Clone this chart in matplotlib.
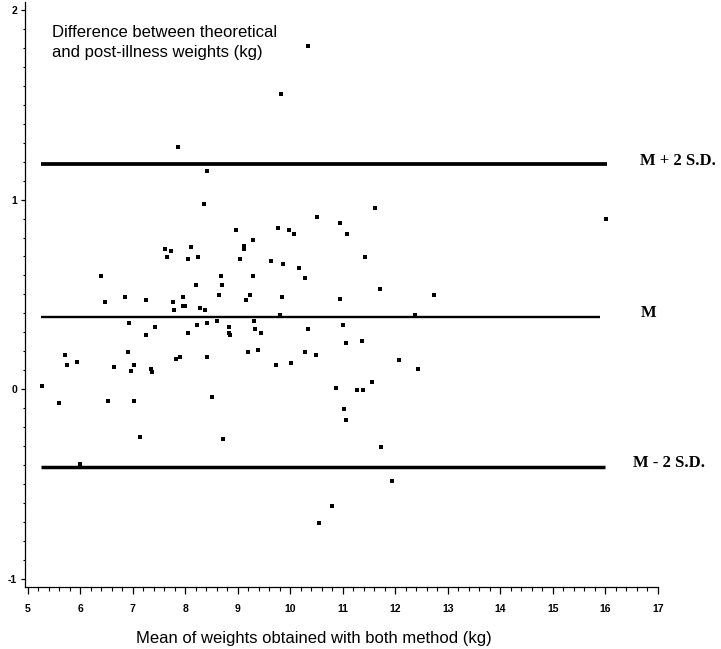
import matplotlib
matplotlib.use("Agg")
import matplotlib.pyplot as plt
from matplotlib.ticker import MultipleLocator

plt.rcParams['axes.unicode_minus'] = False

# Data: mean of weights (x) and difference (y)
mean_weights = [
    10.33, 9.82, 7.86, 8.41, 8.35, 10.52, 10.94, 11.08, 8.97, 9.76,
    9.97, 10.07, 9.29, 9.12, 9.12, 7.62, 7.73, 8.12, 7.65, 8.05,
    8.24, 9.05, 9.64, 9.86, 10.17, 10.29, 6.40, 8.69, 9.29, 8.21,
    8.71, 6.86, 6.48, 7.26, 7.77, 7.95, 8.64, 9.23, 9.16, 9.85,
    10.94, 7.78, 7.95, 7.99, 8.28, 8.38, 9.80, 11.61, 16.01, 11.43,
    11.72, 12.73, 12.38,
    6.93, 7.26, 7.43, 8.05, 8.22, 8.42, 8.61, 8.83, 8.84, 8.85,
    9.31, 9.33, 9.44, 10.33, 11.01, 11.06, 11.36, 5.71, 5.74, 5.94,
    6.65, 6.91, 6.96, 7.03, 7.34, 7.36, 7.82, 7.91, 8.41, 9.19,
    9.39, 9.73, 10.02, 10.28, 10.49, 12.07, 12.43, 11.56, 5.27, 5.60,
    6.53, 7.03, 8.52, 7.13, 8.72, 6.00, 10.88, 11.28, 11.38, 11.03,
    11.07, 11.73, 11.93, 10.79, 10.54,
]
differences = [
    1.81, 1.558, 1.279, 1.149, 0.978, 0.908, 0.878, 0.819, 0.840, 0.849,
    0.840, 0.819, 0.789, 0.757, 0.740, 0.740, 0.731, 0.750, 0.697, 0.689,
    0.697, 0.689, 0.678, 0.659, 0.638, 0.585, 0.599, 0.599, 0.599, 0.548,
    0.548, 0.488, 0.459, 0.469, 0.459, 0.488, 0.497, 0.497, 0.469, 0.488,
    0.478, 0.418, 0.439, 0.439, 0.429, 0.418, 0.392, 0.957, 0.898, 0.697,
    0.529, 0.497, 0.390,
    0.348, 0.286, 0.327, 0.298, 0.337, 0.348, 0.358, 0.327, 0.298, 0.286,
    0.358, 0.318, 0.298, 0.318, 0.337, 0.246, 0.256, 0.179, 0.128, 0.146,
    0.118, 0.198, 0.098, 0.128, 0.109, 0.090, 0.160, 0.169, 0.169, 0.198,
    0.207, 0.128, 0.139, 0.198, 0.179, 0.153, 0.107, 0.037, 0.019, -0.074,
    -0.063, -0.063, -0.041, -0.253, -0.262, -0.392, 0.008, -0.002, -0.002, -0.102,
    -0.162, -0.304, -0.483, -0.614, -0.705,
]

ref_labels = ["M + 2 S.D.", "M", "M - 2 S.D."]
ref_values = [1.188, 0.383, -0.408]
ref_x_start = [5.25, 5.25, 5.25]
ref_x_end = [16.04, 15.91, 15.99]

x_ticks = list(range(5, 18))
y_ticks = [-1, 0, 1, 2]

fig = plt.figure(figsize=(7.21, 6.49), dpi=100)
ax = fig.add_axes([25/721, 1 - 586.7/649, (657.7 - 25)/721, (586.7 - 1.7)/649])

ax.plot(mean_weights, differences, linestyle='none', marker='s',
        markersize=2.3, markeredgewidth=0, color='black', clip_on=False)

widths = [2.7, 1.7, 2.5]
label_dx = [16.67, 16.67, 16.53]
for lab, val, xs, xe, lw, lx in zip(ref_labels, ref_values, ref_x_start, ref_x_end, widths, label_dx):
    ax.plot([xs, xe], [val, val], color='black', linewidth=lw, solid_capstyle='butt')
    ax.text(lx, val + 0.017, lab, ha='left', va='center', fontsize=12,
            fontweight='bold', family='Liberation Serif', clip_on=False)

ax.set_xlim(4.949, 17.0)
ax.set_ylim(-1.0406, 2.043)
ax.set_xticks(x_ticks)
ax.set_yticks(y_ticks)
ax.xaxis.set_minor_locator(MultipleLocator(0.2))
ax.yaxis.set_minor_locator(MultipleLocator(0.1))
for s in ['top', 'right']:
    ax.spines[s].set_visible(False)
for s in ['left', 'bottom']:
    ax.spines[s].set_linewidth(0.9)
ax.tick_params(axis='x', which='major', direction='out', length=5, width=0.9, pad=7.5)
ax.tick_params(axis='x', which='minor', direction='out', length=3, width=0.8)
ax.tick_params(axis='y', which='major', direction='out', length=3.2, width=0.9, pad=2.5)
ax.tick_params(axis='y', which='minor', direction='out', length=1.8, width=0.8)
for lbl in ax.get_xticklabels() + ax.get_yticklabels():
    lbl.set_fontweight('bold')
    lbl.set_fontsize(7.5)
    lbl.set_family('Liberation Sans')

fig.text(51.7/721, 1 - 36.7/649, "Difference between theoretical", fontsize=12,
         family='Liberation Sans', ha='left', va='baseline')
fig.text(51.7/721, 1 - 56.7/649, "and post-illness weights (kg)", fontsize=12,
         family='Liberation Sans', ha='left', va='baseline')
fig.text(314.3/721, 1 - 642.7/649, "Mean of weights obtained with both method (kg)",
         fontsize=12, family='Liberation Sans', ha='center', va='baseline')

fig.savefig("out.png", dpi=100)
